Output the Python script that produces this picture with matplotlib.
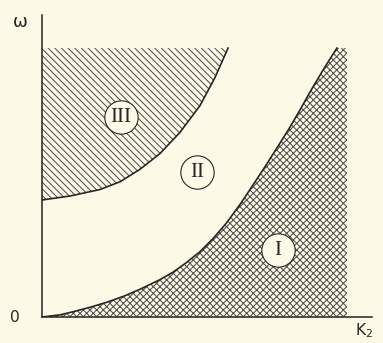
import matplotlib
matplotlib.use("Agg")
import matplotlib.pyplot as plt

# --- boundary curves of the three regions (k2 on x, omega on y) ---
k_I = [0.0, 0.059, 0.10, 0.157, 0.213, 0.272, 0.321, 0.387, 0.43, 0.472, 0.518,
       0.561, 0.603, 0.649, 0.682, 0.725, 0.770, 0.813, 0.846, 0.879, 0.925, 0.967]
w_I = [0.0, 0.008, 0.019, 0.036, 0.055, 0.079, 0.103, 0.139, 0.167, 0.201, 0.243,
       0.292, 0.347, 0.418, 0.474, 0.548, 0.628, 0.706, 0.770, 0.837, 0.925, 1.0]

k_III = [0.0, 0.092, 0.19, 0.256, 0.321, 0.387, 0.452, 0.518, 0.567, 0.61]
w_III = [0.435, 0.45, 0.474, 0.503, 0.549, 0.608, 0.686, 0.786, 0.89, 1.0]

k_max = 1.0      # right edge of the shaded area
w_max = 1.0      # top edge of the shaded area

region_names = ["I", "II", "III"]
region_k = [0.774, 0.508, 0.259]
region_w = [0.249, 0.539, 0.743]

BG = "#fcfae6"
INK = "#262626"

plt.rcParams["hatch.linewidth"] = 0.9

fig = plt.figure(figsize=(383 / 80, 343 / 80), dpi=80, facecolor=BG)
ax = fig.add_axes([42 / 383, 26 / 343, 330 / 383, 302 / 343])
ax.set_facecolor(BG)
ax.set_xlim(0, 1.082)
ax.set_ylim(0, 1.123)

# region III: above the upper curve
ax.fill_between(k_III, w_III, w_max, facecolor="none", edgecolor="#4a4a4a",
                hatch="\\\\\\\\", linewidth=0)
# region I: right of the lower curve
ax.fill_betweenx(w_I, k_I, k_max, facecolor="none", edgecolor="#4a4a4a",
                 hatch="xxxx", linewidth=0)

ax.plot(k_III, w_III, color=INK, lw=1.5)
ax.plot(k_I, w_I, color=INK, lw=1.5)

# circled region numbers
for name, k, w in zip(region_names, region_k, region_w):
    ax.plot(k, w, marker="o", ms=30, mfc=BG, mec=INK, mew=1.0, zorder=5)
    ax.text(k, w, name, ha="center", va="center", fontsize=19,
            family="Liberation Serif", color=INK, zorder=6)

for side in ["top", "right"]:
    ax.spines[side].set_visible(False)
for side in ["left", "bottom"]:
    ax.spines[side].set_linewidth(1.4)
    ax.spines[side].set_color(INK)
ax.set_xticks([])
ax.set_yticks([])

ax.text(-0.072, 1.097, "ω", ha="center", va="center", fontsize=16, color=INK,
        clip_on=False)
ax.text(-0.089, 0.0, "0", ha="center", va="center", fontsize=14, color=INK,
        clip_on=False)
ax.text(1.055, -0.05, "K$_2$", ha="center", va="center", fontsize=14, color=INK,
        clip_on=False)

fig.savefig("out.png", dpi=80, facecolor=BG)
